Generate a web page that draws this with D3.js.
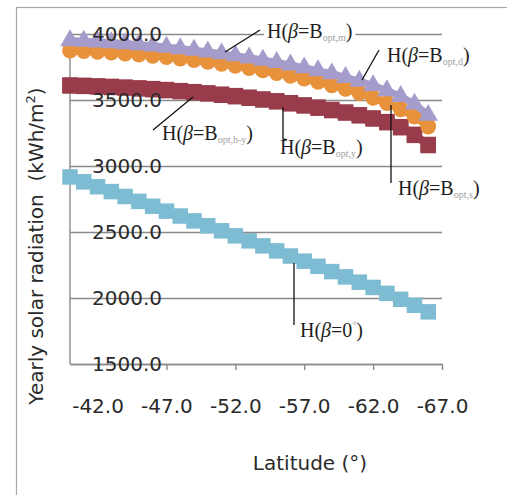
<!DOCTYPE html>
<html><head><meta charset="utf-8">
<script src="https://cdn.jsdelivr.net/npm/d3@7"></script>
<style>html,body{margin:0;padding:0;background:#fff;}svg{display:block;}</style>
</head><body>
<svg id="chart" width="507" height="495"></svg>
<script>
// ---- data ----
const latitudes = [-40,-41,-42,-43,-44,-45,-46,-47,-48,-49,-50,-51,-52,-53,-54,-55,-56,-57,-58,-59,-60,-61,-62,-63,-64,-65,-66];
const hOptM  = [3950,3946,3941,3935,3928,3920,3911,3901,3890,3878,3865,3851,3836,3820,3803,3785,3766,3745,3723,3699,3672,3643,3610,3572,3528,3470,3385];
const hOptD  = [3880,3876,3871,3865,3858,3850,3841,3831,3820,3808,3795,3781,3765,3748,3730,3711,3690,3668,3644,3618,3590,3558,3522,3482,3436,3380,3305];
const hOptS  = [3872,3868,3863,3857,3850,3842,3833,3823,3812,3800,3787,3773,3757,3740,3722,3703,3682,3660,3636,3610,3582,3550,3514,3474,3428,3372,3297];
const hOptHY = [3614,3611,3607,3603,3598,3592,3586,3579,3571,3563,3554,3544,3533,3521,3508,3494,3479,3463,3446,3428,3409,3388,3364,3336,3298,3240,3163];
const hOptY  = [3606,3603,3599,3595,3590,3584,3578,3571,3563,3555,3546,3536,3525,3513,3500,3486,3471,3455,3438,3420,3401,3380,3356,3328,3290,3232,3155];
const hZero  = [2917,2880,2843,2806,2769,2732,2695,2658,2621,2584,2547,2509,2471,2433,2395,2357,2318,2279,2240,2200,2160,2120,2080,2035,1990,1945,1895];
const xTicks = [-42,-47,-52,-57,-62,-67];
const yTicks = [1500,2000,2500,3000,3500,4000];

// ---- layout ----
const svg = d3.select("#chart");
const x = d3.scaleLinear().domain([-40,-67]).range([70,442]);
const y = d3.scaleLinear().domain([1500,4000]).range([364,34]);
const FONT = "DejaVu Sans, Verdana, sans-serif";
const SERIF = "Liberation Serif, Times New Roman, serif";
const fmt = d => d.toFixed(1);

// outer frame
svg.append("rect").attr("x",16.5).attr("y",7.5).attr("width",500).attr("height",500)
  .attr("fill","none").attr("stroke","#a8a8a8").attr("stroke-width",1.2);

// gridlines
const grid = svg.append("g").attr("transform","translate(70,0)")
  .call(d3.axisLeft(y).tickValues(yTicks).tickSize(-372).tickFormat(""));
grid.select(".domain").remove();
grid.selectAll(".tick line").attr("stroke","#8a8a8a").attr("stroke-width",1.4);

// left axis line
svg.append("line").attr("x1",70).attr("x2",70).attr("y1",y(4000)).attr("y2",y(1500))
  .attr("stroke","#8a8a8a").attr("stroke-width",1.4);

// x axis
const xa = svg.append("g").attr("transform","translate(0,364)")
  .call(d3.axisBottom(x).tickValues(xTicks).tickSize(6).tickSizeOuter(0).tickPadding(29).tickFormat(fmt));
xa.select(".domain").attr("stroke","#8a8a8a").attr("stroke-width",1.4);
xa.selectAll(".tick line").attr("stroke","#8a8a8a").attr("stroke-width",1.4);
xa.selectAll("text").attr("font-family",FONT).attr("font-size",20).attr("fill","#2a2a2a");

// series
const line = d3.line().x((d,i)=>x(latitudes[i])).y(d=>y(d));
function drawSeries(vals, color, shape){
  svg.append("path").datum(vals).attr("d",line).attr("fill","none").attr("stroke",color).attr("stroke-width",7);
  const g = svg.append("g");
  const sym = d3.symbol().type(shape==="square"?d3.symbolSquare:shape==="circle"?d3.symbolCircle:d3.symbolTriangle)
    .size(shape==="square"?240:shape==="circle"?185:165);
  g.selectAll("path").data(vals).join("path")
    .attr("d",sym)
    .attr("transform",(d,i)=>`translate(${x(latitudes[i])},${y(d)})`)
    .attr("fill",color);
}
drawSeries(hZero,"#7dbcd3","square");
drawSeries(hOptHY,"#983b4b","square");
drawSeries(hOptY,"#983b4b","square");
drawSeries(hOptS,"#e8923c","circle");
drawSeries(hOptD,"#e8923c","circle");
drawSeries(hOptM,"#a69ccb","triangle");

// y tick labels (inside plot)
const ya = svg.append("g").attr("transform","translate(70,0)")
  .call(d3.axisRight(y).tickValues(yTicks).tickSize(0).tickPadding(22).tickFormat(fmt));
ya.select(".domain").remove();
ya.selectAll("text").attr("font-family",FONT).attr("font-size",20).attr("fill","#2a2a2a");

// axis titles
svg.append("text").attr("x",310).attr("y",470).attr("text-anchor","middle")
  .attr("font-family",FONT).attr("font-size",20).attr("fill","#2a2a2a").text("Latitude (°)");
const yt = svg.append("text").attr("transform","translate(43,246) rotate(-90)").attr("text-anchor","middle")
  .attr("font-family",FONT).attr("font-size",20).attr("fill","#2a2a2a");
yt.append("tspan").text("Yearly solar radiation\u00a0\u00a0(kWh/m");
yt.append("tspan").attr("font-size",13).attr("dy",-8).text("2");
yt.append("tspan").attr("dy",8).text(")");

// annotations
const ann = [
  {sub:"opt,m",  tx:267, ty:38,  line:[[260,30],[225,52]]},
  {sub:"opt,d",  tx:387, ty:62,  line:[[379,50],[362,80]]},
  {sub:"opt,h-y",tx:162, ty:140, line:[[153,130],[193,97]]},
  {sub:"opt,y",  tx:280, ty:154, line:[[283,107],[283,139],[287,140]]},
  {sub:"opt,s",  tx:398, ty:195, line:[[391,105],[391,183]]},
  {sub:null,     tx:300, ty:337, line:[[294,263],[294,325]]}
];
ann.forEach(a=>{
  const g = svg.append("g");
  const bg = g.append("rect").attr("fill","#fff");
  const t = g.append("text").attr("x",a.tx).attr("y",a.ty).attr("font-family",SERIF).attr("font-size",20).attr("fill","#1e1e1e");
  t.append("tspan").text("H(");
  t.append("tspan").attr("font-style","italic").text("β");
  if(a.sub){
    t.append("tspan").text("=B");
    t.append("tspan").attr("font-size",10).attr("fill","#a0a0a0").attr("dy",3).text(a.sub);
    t.append("tspan").attr("dy",-3).text(")");
  } else {
    t.append("tspan").text("=0");
    t.append("tspan").attr("font-size",10).attr("fill","#a0a0a0").attr("dy",-8).text("°");
    t.append("tspan").attr("dy",8).text(")");
  }
  const bb = t.node().getBBox();
  bg.attr("x",bb.x-3).attr("y",bb.y).attr("width",bb.width+6).attr("height",bb.height);
  svg.append("path").attr("d",d3.line()(a.line)).attr("fill","none").attr("stroke","#111").attr("stroke-width",1.3);
});
</script>
</body></html>
